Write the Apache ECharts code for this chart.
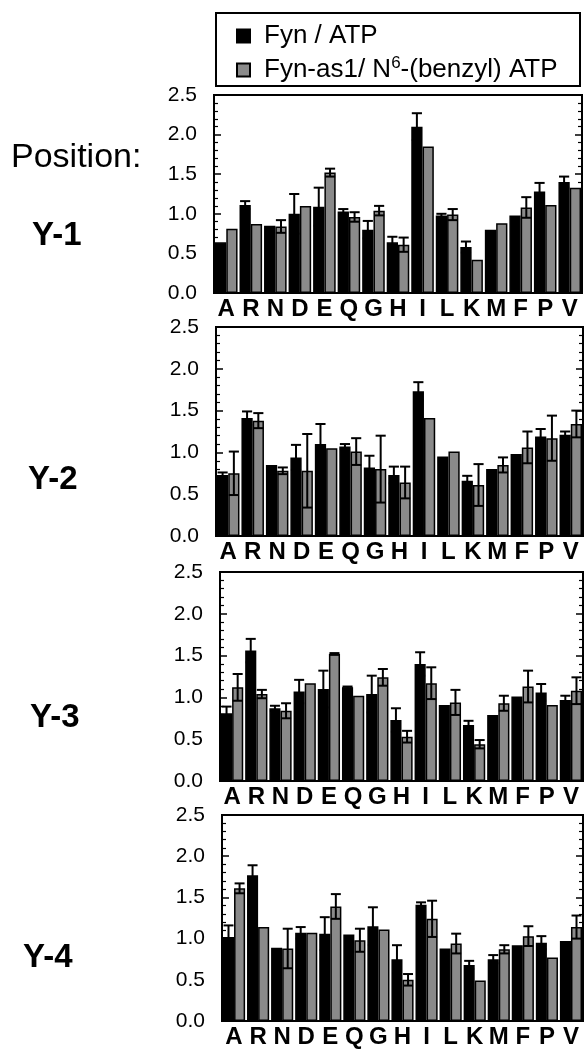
<!DOCTYPE html>
<html>
<head>
<meta charset="utf-8">
<script src="https://cdn.jsdelivr.net/npm/echarts@6/dist/echarts.min.js"></script>
<style>
html,body{margin:0;padding:0;background:#fff;}
#c{width:586px;height:1050px;}
</style>
</head>
<body>
<div id="c"></div>
<script>
const categories = ['A','R','N','D','E','Q','G','H','I','L','K','M','F','P','V'];
const yTicks = [0, 0.5, 1.0, 1.5, 2.0, 2.5];
const seriesNames = ['Fyn / ATP', 'Fyn-as1/ N6-(benzyl) ATP'];
const positionLabels = ['Y-1', 'Y-2', 'Y-3', 'Y-4'];

// Position Y-1
const y1Fyn    = [0.64,1.11,0.85,1.00,1.09,1.03,0.80,0.64,2.10,0.98,0.58,0.80,0.98,1.28,1.40];
const y1FynErr = [0.00,0.05,0.00,0.25,0.24,0.03,0.11,0.07,0.17,0.02,0.07,0.00,0.00,0.11,0.07];
const y1As     = [0.81,0.87,0.84,1.10,1.52,0.96,1.04,0.61,1.85,0.99,0.42,0.88,1.08,1.11,1.33];
const y1AsErr  = [0.00,0.00,0.08,0.00,0.05,0.06,0.06,0.09,0.00,0.07,0.00,0.00,0.13,0.00,0.00];
// Position Y-2
const y2Fyn    = [0.73,1.41,0.85,0.94,1.10,1.07,0.82,0.73,1.73,0.95,0.66,0.80,0.98,1.19,1.21];
const y2FynErr = [0.03,0.08,0.00,0.15,0.24,0.03,0.14,0.10,0.11,0.00,0.06,0.00,0.00,0.09,0.04];
const y2As     = [0.75,1.38,0.78,0.78,1.05,1.01,0.80,0.64,1.41,1.01,0.61,0.85,1.06,1.17,1.34];
const y2AsErr  = [0.26,0.09,0.04,0.44,0.00,0.16,0.40,0.19,0.00,0.00,0.25,0.09,0.19,0.27,0.16];
// Position Y-3
const y3Fyn    = [0.81,1.56,0.87,1.07,1.10,1.12,1.04,0.73,1.40,0.91,0.67,0.79,1.01,1.06,0.97];
const y3FynErr = [0.08,0.14,0.03,0.14,0.22,0.01,0.22,0.14,0.14,0.00,0.05,0.00,0.00,0.10,0.05];
const y3As     = [1.12,1.04,0.84,1.17,1.52,1.02,1.24,0.53,1.17,0.94,0.44,0.93,1.13,0.91,1.08];
const y3AsErr  = [0.16,0.05,0.09,0.00,0.01,0.00,0.10,0.07,0.19,0.15,0.05,0.09,0.19,0.00,0.16];
// Position Y-4
const y4Fyn    = [1.02,1.77,0.89,1.07,1.06,1.05,1.15,0.75,1.41,0.88,0.68,0.75,0.92,0.95,0.97];
const y4FynErr = [0.14,0.12,0.00,0.07,0.20,0.00,0.23,0.17,0.03,0.00,0.05,0.05,0.00,0.08,0.00];
const y4As     = [1.61,1.14,0.88,1.07,1.39,0.98,1.11,0.50,1.24,0.94,0.49,0.87,1.03,0.77,1.14];
const y4AsErr  = [0.06,0.00,0.24,0.00,0.15,0.14,0.00,0.07,0.22,0.12,0.00,0.05,0.12,0.00,0.14];

const panels = [
  {fyn:y1Fyn, fynErr:y1FynErr, as:y1As, asErr:y1AsErr},
  {fyn:y2Fyn, fynErr:y2FynErr, as:y2As, asErr:y2AsErr},
  {fyn:y3Fyn, fynErr:y3FynErr, as:y3As, asErr:y3AsErr},
  {fyn:y4Fyn, fynErr:y4FynErr, as:y4As, asErr:y4AsErr}
];

const FONT = '"Liberation Sans", Arial, Helvetica, sans-serif';
const CAT_GAP = 0.08;
const gridBoxes = [
  {left:214, top:95,  width:368, height:198},
  {left:216, top:327, width:367, height:209},
  {left:220, top:572, width:363, height:209},
  {left:222, top:815, width:361, height:206}
];
const labelY = [236, 480, 718, 958];
const labelX = [32, 28, 30, 23];

const grid = [], xAxis = [], yAxis = [], series = [];

function errRender(side) {
  return function (params, api) {
    const idx = api.value(0), v = api.value(1), e = api.value(2);
    if (!e) return {type:'group', children:[]};
    const band = api.size([1, 0])[0];
    const bw = band * (1 - CAT_GAP) / 2;
    const c = api.coord([idx, v]);
    const x = c[0] + (side === 0 ? -bw / 2 : bw / 2);
    const yt = api.coord([idx, v + e])[1];
    const yb = api.coord([idx, Math.max(0, v - e)])[1];
    const h = bw * 0.45;
    const st = {stroke:'#000', lineWidth:2};
    return {type:'group', children:[
      {type:'line', shape:{x1:x, y1:yt, x2:x, y2:yb}, style:st},
      {type:'line', shape:{x1:x-h, y1:yt, x2:x+h, y2:yt}, style:st},
      {type:'line', shape:{x1:x-h, y1:yb, x2:x+h, y2:yb}, style:st}
    ]};
  };
}

panels.forEach((p, i) => {
  grid.push(Object.assign({show:true, borderColor:'#000', borderWidth:2, outerBoundsMode:'none', containLabel:false}, gridBoxes[i]));
  xAxis.push({
    type:'category', gridIndex:i, data:categories,
    axisLine:{lineStyle:{color:'#000', width:2}},
    axisTick:{show:false},
    axisLabel:{interval:0, color:'#000', fontFamily:FONT, fontWeight:'bold', fontSize:24, margin:4}
  });
  const yBase = {
    type:'value', gridIndex:i, min:0, max:2.5, interval:0.5,
    splitLine:{show:false},
    axisLine:{show:true, lineStyle:{color:'#000', width:2}},
    axisTick:{show:true, inside:true, length:7, lineStyle:{color:'#000', width:1.5}},
    minorTick:{show:true, splitNumber:5, length:4, lineStyle:{color:'#000', width:1.2}}
  };
  yAxis.push(Object.assign({}, yBase, {
    position:'left',
    axisLabel:{color:'#000', fontFamily:FONT, fontSize:21, margin:17,
      formatter: v => yTicks.includes(v) ? v.toFixed(1) : ''}
  }));
  yAxis.push(Object.assign({}, yBase, {position:'right', axisLabel:{show:false}}));

  series.push({
    name:seriesNames[0], type:'bar', xAxisIndex:i, yAxisIndex:2*i,
    data:p.fyn, barGap:'0%', barCategoryGap:(CAT_GAP*100)+'%',
    itemStyle:{color:'#000', borderColor:'#000', borderWidth:1.5}
  });
  series.push({
    name:seriesNames[1], type:'bar', xAxisIndex:i, yAxisIndex:2*i,
    data:p.as, barGap:'0%', barCategoryGap:(CAT_GAP*100)+'%',
    itemStyle:{color:'#8a8a8a', borderColor:'#000', borderWidth:1.5}
  });
  series.push({
    type:'custom', xAxisIndex:i, yAxisIndex:2*i, z:5,
    renderItem:errRender(0),
    data:p.fyn.map((v, k) => [k, v, p.fynErr[k]])
  });
  series.push({
    type:'custom', xAxisIndex:i, yAxisIndex:2*i, z:5,
    renderItem:errRender(1),
    data:p.as.map((v, k) => [k, v, p.asErr[k]])
  });
});

const graphic = [
  {type:'rect', shape:{x:216, y:13, width:364, height:73}, style:{fill:'none', stroke:'#000', lineWidth:2}},
  {type:'text', x:11, y:158, style:{text:'Position:', font:'34px ' + FONT, fill:'#000', textVerticalAlign:'middle', verticalAlign:'middle'}}
];
positionLabels.forEach((t, i) => {
  graphic.push({type:'text', x:labelX[i], y:labelY[i],
    style:{text:t, font:'bold 33px ' + FONT, fill:'#000', textVerticalAlign:'middle', verticalAlign:'middle'}});
});

const chart = echarts.init(document.getElementById('c'), null, {renderer:'canvas'});
chart.setOption({
  animation:false,
  backgroundColor:'#fff',
  grid, xAxis, yAxis, series, graphic,
  legend:{
    data:seriesNames, orient:'vertical', left:231, top:18,
    icon:'rect', itemWidth:13, itemHeight:13, itemGap:6,
    selectedMode:false,
    formatter: n => n === seriesNames[0] ? '{t|Fyn / ATP}' : '{t|Fyn-as1/ N}{s|6}{t|-(benzyl) ATP}',
    textStyle:{
      color:'#000', padding:[0,0,0,9],
      rich:{
        t:{fontFamily:FONT, fontSize:26, lineHeight:30, color:'#000'},
        s:{fontFamily:FONT, fontSize:17, lineHeight:30, verticalAlign:'top', color:'#000', padding:[0,0,12,0]}
      }
    }
  }
});
</script>
</body>
</html>
